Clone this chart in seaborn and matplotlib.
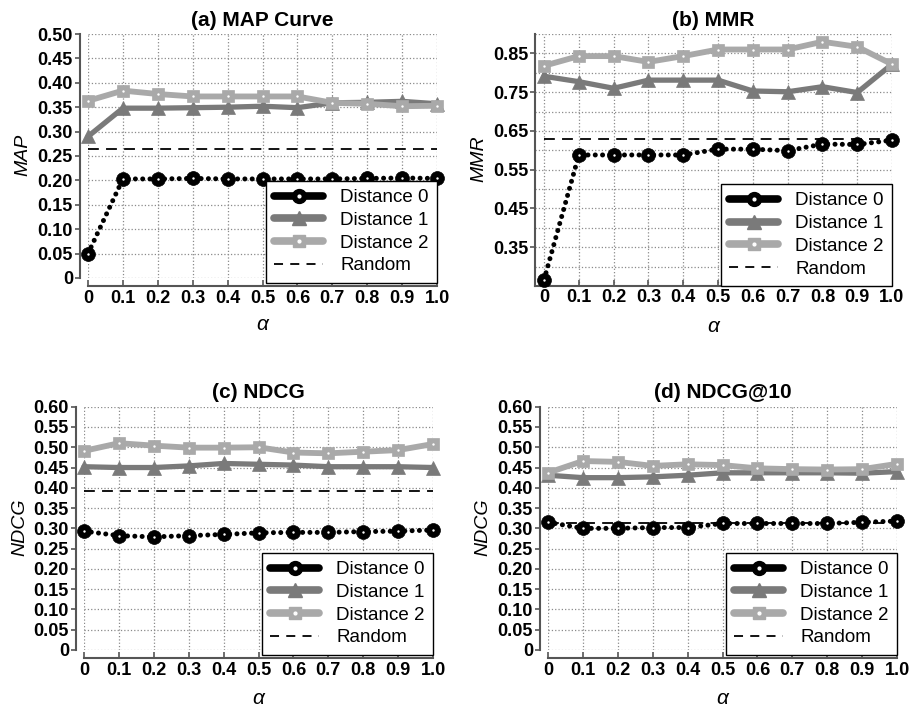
import numpy as np
import pandas as pd
import matplotlib
matplotlib.use("Agg")
import matplotlib.pyplot as plt
import seaborn as sns
from matplotlib.lines import Line2D
from matplotlib.legend_handler import HandlerTuple

# ---------------- data ----------------
alpha = [0.0, 0.1, 0.2, 0.3, 0.4, 0.5, 0.6, 0.7, 0.8, 0.9, 1.0]
series_labels = ["Distance 0", "Distance 1", "Distance 2", "Random"]

map_d0 = [0.050, 0.203, 0.203, 0.204, 0.203, 0.203, 0.203, 0.203, 0.204, 0.205, 0.204]
map_d1 = [0.290, 0.348, 0.348, 0.349, 0.350, 0.352, 0.349, 0.359, 0.360, 0.362, 0.357]
map_d2 = [0.363, 0.384, 0.377, 0.372, 0.372, 0.372, 0.372, 0.359, 0.357, 0.352, 0.353]
map_rand = 0.264

mmr_d0 = [0.266, 0.588, 0.588, 0.588, 0.588, 0.603, 0.603, 0.599, 0.616, 0.615, 0.626]
mmr_d1 = [0.791, 0.777, 0.760, 0.781, 0.781, 0.781, 0.753, 0.751, 0.764, 0.749, 0.822]
mmr_d2 = [0.818, 0.843, 0.843, 0.828, 0.843, 0.860, 0.860, 0.860, 0.880, 0.867, 0.822]
mmr_rand = 0.629

ndcg_d0 = [0.293, 0.282, 0.279, 0.282, 0.285, 0.289, 0.290, 0.290, 0.292, 0.293, 0.296]
ndcg_d1 = [0.452, 0.450, 0.450, 0.454, 0.460, 0.458, 0.456, 0.452, 0.452, 0.452, 0.450]
ndcg_d2 = [0.491, 0.510, 0.504, 0.499, 0.499, 0.500, 0.487, 0.485, 0.489, 0.493, 0.508]
ndcg_rand = 0.392

n10_d0 = [0.315, 0.300, 0.300, 0.302, 0.302, 0.312, 0.312, 0.312, 0.312, 0.315, 0.318]
n10_d1 = [0.431, 0.425, 0.425, 0.427, 0.431, 0.437, 0.437, 0.437, 0.437, 0.436, 0.440]
n10_d2 = [0.437, 0.466, 0.464, 0.454, 0.458, 0.456, 0.448, 0.446, 0.445, 0.446, 0.459]
n10_rand = 0.313

x_ticks = [0.0, 0.1, 0.2, 0.3, 0.4, 0.5, 0.6, 0.7, 0.8, 0.9, 1.0]
x_ticklabels = ["0", "0.1", "0.2", "0.3", "0.4", "0.5", "0.6", "0.7", "0.8", "0.9", "1.0"]
map_yticks = [0.0, 0.05, 0.10, 0.15, 0.20, 0.25, 0.30, 0.35, 0.40, 0.45, 0.50]
map_yticklabels = ["0", "0.05", "0.10", "0.15", "0.20", "0.25", "0.30", "0.35", "0.40", "0.45", "0.50"]
mmr_yticks = [0.35, 0.45, 0.55, 0.65, 0.75, 0.85]
mmr_yticklabels = ["0.35", "0.45", "0.55", "0.65", "0.75", "0.85"]
mmr_yminor = [0.30, 0.40, 0.50, 0.60, 0.70, 0.80, 0.90]
ndcg_yticks = [0.0, 0.05, 0.10, 0.15, 0.20, 0.25, 0.30, 0.35, 0.40, 0.45, 0.50, 0.55, 0.60]
ndcg_yticklabels = ["0", "0.05", "0.10", "0.15", "0.20", "0.25", "0.30", "0.35",
                    "0.40", "0.45", "0.50", "0.55", "0.60"]

# ---------------- style ----------------
sns.set_theme(style="white")
plt.rcParams["font.family"] = ["Liberation Sans", "DejaVu Sans"]
plt.rcParams["text.color"] = "black"
plt.rcParams["axes.labelcolor"] = "black"

C0 = "#000000"
C1 = "#7a7a7a"
C2 = "#a9a9a9"
SPINE = "#555555"

W, H = 909, 707
fig = plt.figure(figsize=(W / 100, H / 100), dpi=100)


def box(l, r, t, b):
    return [l / W, 1 - b / H, (r - l) / W, (b - t) / H]


def draw(ax, d0, d1, d2, rnd):
    df = pd.DataFrame({"alpha": alpha, "d0": d0, "d1": d1, "d2": d2,
                       "rnd": [rnd] * len(alpha)})
    sns.lineplot(data=df, x="alpha", y="rnd", ax=ax, color="black", lw=1.3,
                 linestyle=(0, (6, 4)), zorder=2, legend=False)
    sns.lineplot(data=df, x="alpha", y="d1", ax=ax, color=C1, lw=3.8,
                 marker="^", markersize=9.5, markeredgecolor=C1, markeredgewidth=0.5,
                 zorder=3, legend=False, clip_on=False)
    sns.lineplot(data=df, x="alpha", y="d2", ax=ax, color=C2, lw=4.2,
                 marker="s", markersize=8.5, markeredgecolor=C2, markeredgewidth=0.5,
                 zorder=4, legend=False, clip_on=False)
    sns.scatterplot(data=df, x="alpha", y="d2", ax=ax, color="white", s=3,
                    linewidth=0, zorder=4.5, legend=False, clip_on=False)
    sns.lineplot(data=df, x="alpha", y="d0", ax=ax, color=C0, lw=3.6,
                 linestyle=(0, (0.01, 1.45)), dash_capstyle="round",
                 marker="o", markersize=10, markeredgecolor=C0, markeredgewidth=0.5,
                 zorder=5, legend=False, clip_on=False)
    sns.scatterplot(data=df, x="alpha", y="d0", ax=ax, color="white", s=3,
                    linewidth=0, zorder=6, legend=False, clip_on=False)


def style(ax, title, ylabel, yticks, yticklabels, ylim, xlim, offset,
          ylab_x, xlab_y, leg_y):
    ax.set_xlim(*xlim)
    ax.set_ylim(*ylim)
    ax.tick_params(axis="y", direction="out", length=3.5, width=1.2,
                   color=SPINE, pad=1.5, labelcolor="black", left=True,
                   labelsize=13)
    ax.tick_params(axis="x", direction="in", length=4, width=1.2,
                   color=SPINE, pad=2.5, labelcolor="black", bottom=True,
                   labelsize=13)
    ax.set_xticks(x_ticks, x_ticklabels)
    ax.set_yticks(yticks, yticklabels)
    ax.grid(True, which="major", linestyle=":", color="#8a8a8a", lw=0.9)
    sns.despine(ax=ax, offset=offset)
    for s in ("left", "bottom"):
        ax.spines[s].set_color(SPINE)
        ax.spines[s].set_linewidth(1.5)
    ax.set_title(title, fontsize=15, fontweight="bold", pad=6, color="black")
    ax.set_ylabel(ylabel, fontsize=14, fontstyle="italic", color="black")
    ax.yaxis.set_label_coords(ylab_x, 0.505)
    ax.set_xlabel("α", fontsize=15, fontstyle="italic", color="black")
    ax.xaxis.set_label_coords(0.5, xlab_y)

    dot = Line2D([], [], ls="", marker="o", ms=2, color="white")
    h0 = (Line2D([], [], color=C0, lw=5.5, marker="o", ms=10, mec=C0), dot)
    h1 = Line2D([], [], color=C1, lw=5.5, marker="^", ms=10, mec=C1)
    h2 = (Line2D([], [], color=C2, lw=5.5, marker="s", ms=9, mec=C2), dot)
    h3 = Line2D([], [], color="black", lw=1.3, ls=(0, (5, 4)))
    leg = ax.legend([h0, h1, h2, h3], series_labels,
                    handler_map={tuple: HandlerTuple(ndivide=1, pad=0)},
                    loc="lower right", bbox_to_anchor=(1.0, leg_y),
                    borderaxespad=0, fontsize=13.5, handlelength=2.6,
                    handletextpad=0.9, borderpad=0.45, labelspacing=0.3,
                    fancybox=False, frameon=True, framealpha=1)
    leg.get_frame().set_edgecolor("black")
    leg.get_frame().set_linewidth(1.0)
    leg.set_zorder(10)
    for t in leg.get_texts():
        t.set_color("black")
    for lab in ax.get_xticklabels() + ax.get_yticklabels():
        lab.set_fontweight("bold")


OFF = 5.8

ax_a = fig.add_axes(box(88, 437, 34, 278))
draw(ax_a, map_d0, map_d1, map_d2, map_rand)
style(ax_a, "(a) MAP Curve", "MAP", map_yticks, map_yticklabels,
      (0, 0.5), (0, 1.0), OFF, -0.163, -0.15, -0.02)

ax_b = fig.add_axes(box(535, 892, 34, 286))
draw(ax_b, mmr_d0, mmr_d1, mmr_d2, mmr_rand)
style(ax_b, "(b) MMR", "MMR", mmr_yticks, mmr_yticklabels,
      (0.25, 0.90), (-0.026, 1.0), 0, -0.132, -0.125, 0.0)
ax_b.set_yticks(mmr_yminor, minor=True)
ax_b.tick_params(axis="y", which="minor", length=0)
ax_b.grid(True, which="minor", axis="y", linestyle=":", color="#8a8a8a", lw=0.9)

ax_c = fig.add_axes(box(84, 433, 406.7, 650))
draw(ax_c, ndcg_d0, ndcg_d1, ndcg_d2, ndcg_rand)
style(ax_c, "(c) NDCG", "NDCG", ndcg_yticks, ndcg_yticklabels,
      (0, 0.6), (0, 1.0), OFF, -0.160, -0.16, -0.02)

ax_d = fig.add_axes(box(548, 897, 406.7, 650))
draw(ax_d, n10_d0, n10_d1, n10_d2, n10_rand)
style(ax_d, "(d) NDCG@10", "NDCG", ndcg_yticks, ndcg_yticklabels,
      (0, 0.6), (0, 1.0), OFF, -0.163, -0.16, -0.02)

fig.savefig("out.png", dpi=100)
